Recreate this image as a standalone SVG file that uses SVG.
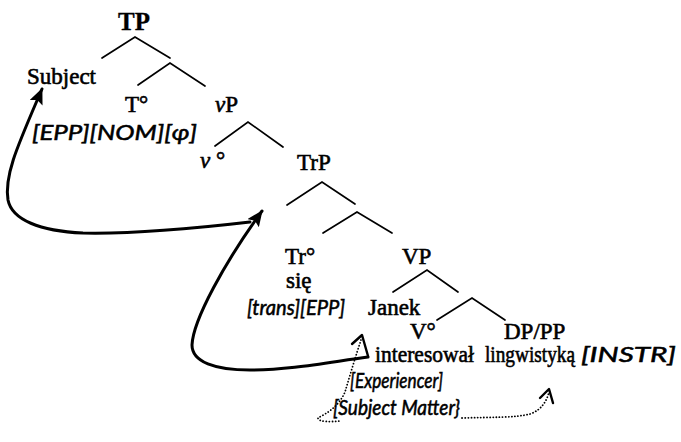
<svg xmlns="http://www.w3.org/2000/svg" width="681" height="442" viewBox="0 0 681 442">
  <style>
    .lbl { font-family: "Liberation Serif", "Times New Roman", serif; font-size: 23px; fill: #000; stroke: #000; stroke-width: 0.6; }
    .cat { font-weight: bold; font-size: 25px; stroke-width: 0.3; }
    .feat { font-family: "Lato", "Liberation Sans", sans-serif; font-style: italic; font-size: 22px; fill: #000; stroke: #000; stroke-width: 0.55; }
    .branch { fill: none; stroke: #000; stroke-width: 1.7; stroke-linecap: round; }
    .move { fill: none; stroke: #000; stroke-width: 3; stroke-linecap: round; }
    .link { fill: none; stroke: #000; stroke-width: 1.8; stroke-dasharray: 0.1 3; stroke-linecap: round; }
    .chev { fill: none; stroke: #000; stroke-width: 2.4; stroke-linecap: round; stroke-linejoin: round; }
  </style>
  <defs>
    <marker id="headSolid" viewBox="0 0 16 14" refX="15" refY="7" markerWidth="16" markerHeight="14" markerUnits="userSpaceOnUse" orient="auto">
      <path d="M0,0 L16,7 L0,14 L3,7 z" fill="#000"/>
    </marker>
  </defs>

  <!-- branches of the tree -->
  <g id="branches">
    <polyline class="branch" points="102,58 135,37 170,58"/>
    <polyline class="branch" points="138,85 170,63 205,86"/>
    <polyline class="branch" points="215,146 248,122 283,147"/>
    <polyline class="branch" points="287,205 322,182 355,204"/>
    <polyline class="branch" points="323,233 357,212 392,233"/>
    <polyline class="branch" points="393,292 427,270 458,292"/>
    <polyline class="branch" points="437,320 472,298 505,320"/>
  </g>

  <!-- nodes -->
  <g id="node-TP"><text class="lbl cat" x="134" y="30" text-anchor="middle">TP</text></g>
  <g id="node-Subject"><text class="lbl" x="27" y="84">Subject</text></g>
  <g id="node-T"><text class="lbl" x="125" y="112">T°</text></g>
  <g id="node-vP"><text class="lbl" x="215" y="112"><tspan font-style="italic">v</tspan>P</text></g>
  <g id="node-T-features"><text class="feat" x="32" y="140" textLength="165" lengthAdjust="spacingAndGlyphs">[EPP][NOM][φ]</text></g>
  <g id="node-v"><text class="lbl" x="200" y="168"><tspan font-style="italic">v</tspan> °</text></g>
  <g id="node-TrP"><text class="lbl" x="297" y="170">TrP</text></g>
  <g id="node-Tr"><text class="lbl" x="285" y="264">Tr°</text></g>
  <g id="node-sie"><text class="lbl" x="286" y="288">się</text></g>
  <g id="node-Tr-features"><text class="feat" x="247" y="315" textLength="98" lengthAdjust="spacingAndGlyphs">[trans][EPP]</text></g>
  <g id="node-VP"><text class="lbl" x="402" y="264">VP</text></g>
  <g id="node-Janek"><text class="lbl" x="368" y="315">Janek</text></g>
  <g id="node-V"><text class="lbl" x="410" y="339">V°</text></g>
  <g id="node-DPPP"><text class="lbl" x="504" y="339">DP/PP</text></g>
  <g id="node-interesowal"><text class="lbl" x="375" y="362" textLength="99" lengthAdjust="spacingAndGlyphs">interesował</text></g>
  <g id="node-lingwistyka">
    <text class="lbl" y="362"><tspan x="485" textLength="90" lengthAdjust="spacingAndGlyphs">lingwistyką</tspan><tspan class="feat" x="581" font-size="24" textLength="95" lengthAdjust="spacingAndGlyphs">[INSTR]</tspan></text>
  </g>
  <g id="node-experiencer"><text class="feat" x="350" y="388" textLength="93" lengthAdjust="spacingAndGlyphs">[Experiencer]</text></g>
  <g id="node-subject-matter"><text class="feat" x="333" y="415" textLength="127" lengthAdjust="spacingAndGlyphs">[Subject Matter}</text></g>

  <!-- movement arrows and theta links -->
  <g id="connectors">
    <path class="move" marker-end="url(#headSolid)" d="M250,222 C190,229 130,234 83,233 C40,231 12,220 8,200 C4,175 18,145 42,89"/>
    <path class="move" marker-end="url(#headSolid)" d="M368,357 C330,362 290,370 250,370 C215,370 192,362 192,345 C193,320 225,262 262,211"/>
    <path class="link" d="M361,340 C356,355 350,375 345,392 C338,408 325,414 318,418 C318,422 330,422 340,421"/>
    <polyline class="chev" points="352,344 362,335 368,356"/>
    <path class="link" d="M462,418 C490,417 515,418 530,414 C542,410 547,400 549,392"/>
    <polyline class="chev" points="540,398 549,389 553,403"/>
  </g>
</svg>
